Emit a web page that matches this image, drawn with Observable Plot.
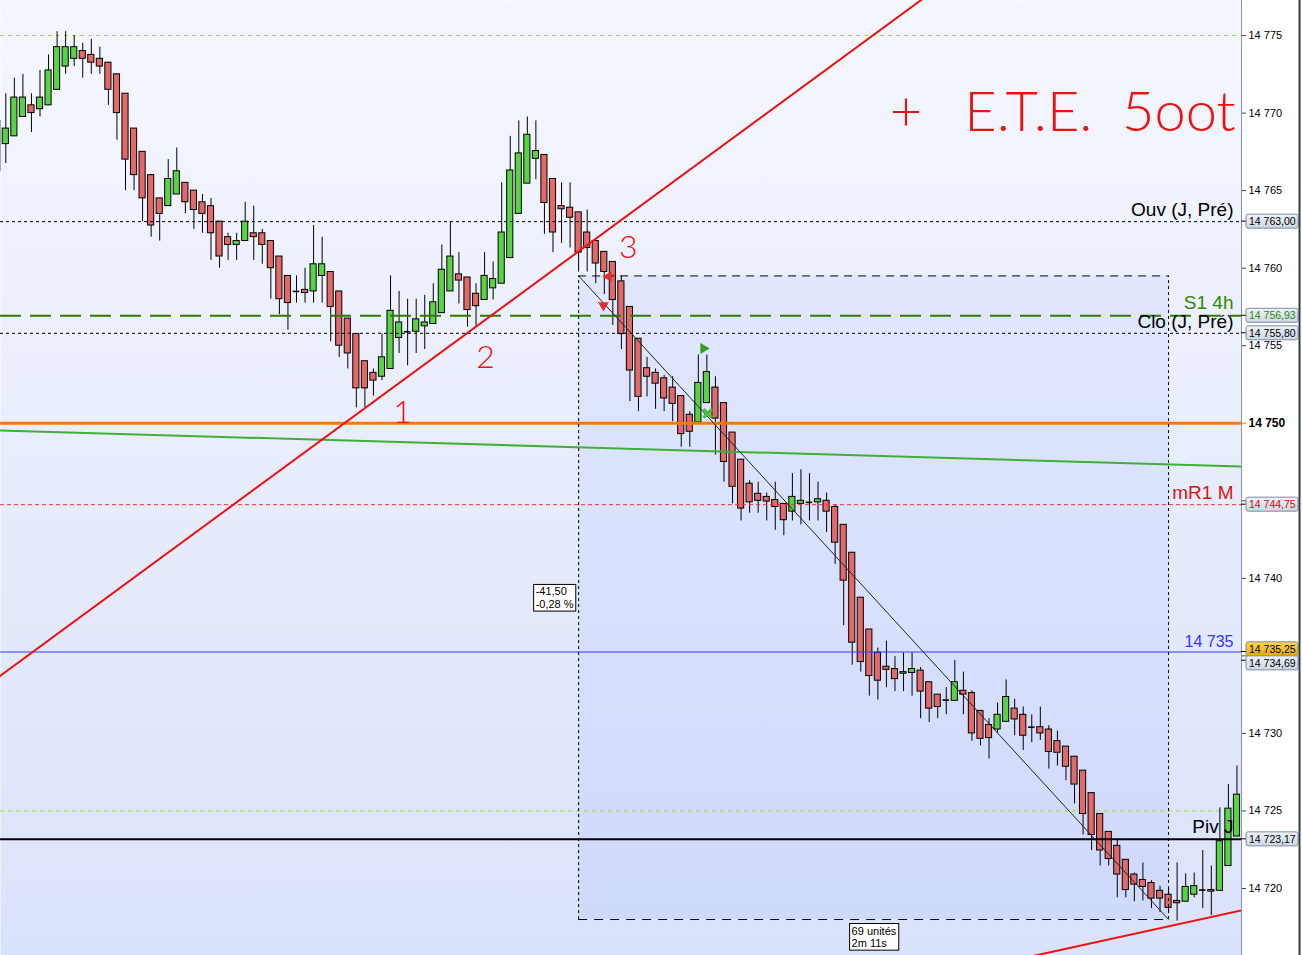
<!DOCTYPE html>
<html><head><meta charset="utf-8">
<script src="https://cdn.jsdelivr.net/npm/d3@7"></script>
<script src="https://cdn.jsdelivr.net/npm/@observablehq/plot@0.6"></script>
<style>
html,body{margin:0;padding:0;background:#fff;}
#chart{width:1302px;height:955px;position:relative;overflow:hidden;}
</style></head><body>
<svg width="0" height="0" style="position:absolute">
 <defs>
  <linearGradient id="bgGrad" x1="0" y1="0" x2="0" y2="1">
   <stop offset="0" stop-color="#f5f7fe"/><stop offset="1" stop-color="#dae2fa"/>
  </linearGradient>
  <linearGradient id="boxGrad" x1="0" y1="0" x2="0" y2="1">
   <stop offset="0" stop-color="#eef2f8"/><stop offset="1" stop-color="#cdd6e4"/>
  </linearGradient>
  <linearGradient id="goldGrad" x1="0" y1="0" x2="0" y2="1">
   <stop offset="0" stop-color="#ffd84a"/><stop offset="1" stop-color="#e8a800"/>
  </linearGradient>
 </defs>
</svg>
<div id="chart"></div>
<script>
// ---------------- DATA ----------------
const firstIndex = -1;
const opens = [14766.25,
14768,14768.5,14769.75,14770.5,14770.25,14770.5,14771.5,14773,14773.5,14774,
14773.75,14773.5,14773.25,14772.5,14771.25,14769,14767.5,14766,14764.5,14764,
14764.75,14765.5,14765,14764.25,14764,14763,14762,14761.5,14761.75,14762.25,
14762.25,14761.75,14760.75,14759.5,14758.5,14758.6,14758.5,14759.5,14759.75,14758.5,
14756.75,14755.75,14754,14753.25,14753,14753.5,14755.5,14755.9,14755.9,14756.25,
14756.4,14757.1,14758.5,14759.6,14759.4,14758.35,14757.95,14758.7,14759,14760.65,
14763.5,14765.45,14767.05,14767.3,14765.75,14764,14763.9,14763.6,14762.3,14761.75,
14761.05,14760.4,14759.15,14757.5,14755.45,14753.55,14753.25,14752.9,14752.3,14751.75,
14750.55,14750.05,14751.3,14752.3,14751.3,14749.4,14747.65,14746.1,14745.45,14745.25,
14745.05,14744.8,14744.3,14744.8,14744.9,14744.9,14745,14744.6,14743.45,14741.65,
14738.75,14736.7,14735.2,14734.3,14734.15,14733.85,14733.9,14734.05,14733.3,14732.5,
14732.15,14732.1,14732.75,14732.6,14731.45,14730.55,14730.25,14730.75,14731.6,14731.2,
14730.4,14730.4,14730.25,14729.5,14729.15,14728.5,14727.6,14726.15,14724.8,14723.65,
14722.75,14721.85,14720.9,14720.55,14720.35,14719.85,14719.6,14719.2,14719.15,14719.6,
14719.9,14719.9,14719.85,14721.45,14723.35];
const highs = [14770,
14771.25,14772.25,14772.5,14771.25,14772.75,14773.75,14775.25,14775.25,14775,14774.5,
14774.75,14774.25,14773.25,14772.5,14771.25,14769,14767.5,14766,14764.5,14767,
14767.75,14765.5,14765,14764.75,14764.5,14763,14762.25,14762.25,14764.25,14764,
14762.5,14761.75,14760.75,14759.5,14759.5,14760,14762.75,14762,14759.75,14758.5,
14756.75,14755.75,14754,14753.5,14755.75,14759.5,14758.5,14758,14758,14758.25,
14759,14761.5,14763,14761,14759.4,14759,14761,14760.4,14765.5,14768.5,
14769.5,14769.75,14769.5,14767.3,14765.75,14765.5,14765.5,14763.6,14763.75,14761.75,
14761.05,14760.4,14759.5,14757.5,14755.45,14754.25,14753.5,14753.1,14753,14751.75,
14750.75,14754.4,14754.4,14753,14751.3,14749.4,14747.65,14746.3,14746.2,14745.5,
14746.2,14744.8,14746.75,14747,14746.75,14746.2,14745.5,14744.75,14743.45,14741.65,
14738.75,14736.7,14735.5,14735.95,14734.95,14735.2,14735.2,14734.25,14733.3,14732.5,
14732.95,14734.7,14733.95,14732.75,14731.45,14730.95,14731.95,14733.45,14732.2,14731.7,
14731.2,14731.7,14730.5,14730.15,14729.15,14728.5,14727.6,14726.15,14724.8,14723.65,
14723.2,14721.85,14721,14721.65,14720.5,14720.15,14720.05,14721.65,14720.95,14721,
14722.45,14721.45,14725.2,14726.7,14727.9];
const lows = [14766,
14766.75,14768.5,14769.75,14768.75,14769.75,14770.5,14771.5,14772.5,14773,14772.25,
14772.5,14772.5,14770.5,14768.25,14765,14765,14763,14762,14761.75,14764,
14764.75,14763.5,14762.5,14762.25,14760.5,14760,14760.5,14760.5,14761.75,14760.5,
14760.25,14758,14757,14756,14757.75,14757.75,14757.75,14757.75,14755.25,14754.25,
14753.5,14751,14751,14751.75,14752.75,14753.5,14754.5,14753.7,14754.5,14754.75,
14756.4,14757.1,14758.5,14757.7,14756.2,14756.2,14757.95,14757.95,14759,14760.65,
14763.5,14765.45,14765.7,14762.2,14761,14761.6,14761.3,14759.75,14759.75,14759,
14758.3,14756.3,14754.75,14751.4,14750.75,14751.7,14750.9,14750.75,14750.1,14748.45,
14748.45,14750.05,14751.3,14747.95,14746.2,14744.8,14743.7,14744.2,14744.2,14743.7,
14743.1,14742.75,14743.7,14743.45,14743.7,14743.7,14742.95,14740.9,14736.95,14734.4,
14733.95,14732.4,14732.15,14732.95,14732.7,14732.7,14732.4,14730.95,14730.7,14730.95,
14731.2,14732.1,14731.2,14729.5,14729.2,14728.35,14730,14730.75,14729.85,14728.9,
14729.4,14729.55,14727.7,14727.9,14726.95,14725.45,14723.45,14722.45,14721.45,14721.45,
14719.4,14719.4,14719.15,14719.2,14718.7,14718.45,14718.5,14717.9,14719.15,14719.4,
14718.7,14718.25,14719.85,14721.45,14723.35];
const closes = [14769.5,
14769,14771,14771,14770,14771,14772.75,14774.25,14774.25,14774.25,14773.5,
14773.25,14773,14771.5,14770,14767,14766,14764.5,14762.75,14763.5,14765.75,
14766.25,14764.25,14763.75,14763.5,14762.25,14760.75,14761.5,14761.75,14763,14762,
14761.5,14760,14758,14757.75,14758.5,14758.4,14760.25,14760.25,14757.5,14755,
14754.5,14752.25,14752.25,14752.75,14754.25,14757.25,14756.5,14755.9,14756.7,14756.5,
14757.8,14759.9,14760.75,14759.2,14757.3,14757.55,14759.5,14759.3,14762.3,14766.3,
14767.4,14768.6,14767.55,14764.2,14762.3,14763.8,14763.25,14761,14761.3,14760.3,
14759.75,14757.95,14755.75,14753.4,14751.7,14753,14752.55,14751.6,14751.25,14749.3,
14749.45,14752.6,14753.3,14750.3,14747.5,14745.9,14744.5,14744.9,14745,14744.95,
14744.6,14743.75,14745.25,14745,14744.9,14745.1,14744.3,14742.3,14739.85,14735.85,
14734.6,14733.7,14733.4,14734.1,14733.5,14733.95,14734.15,14732.7,14731.6,14731.7,
14732.15,14733.3,14732.5,14730,14729.65,14729.7,14731.2,14732.35,14730.9,14729.85,
14730.4,14730,14728.8,14728.75,14727.85,14726.7,14724.8,14723.45,14722.45,14721.9,
14720.9,14719.9,14720.25,14720.1,14719.35,14719.35,14718.75,14719.05,14720.1,14720.15,
14719.9,14719.8,14723.05,14725.15,14726.05];

const tickValues = [14720,14725,14730,14735,14740,14745,14750,14755,14760,14765,14770,14775];
const gridValues = [14775, 14750, 14725];

const levelNames  = ["Ouv (J, Pré)", "S1 4h", "Clo (J, Pré)", "", "mR1 M", "14 735", "Piv J"];
const levelValues = [14763.00, 14756.93, 14755.80, 14750.00, 14744.75, 14735.25, 14723.17];
const boxValues   = [14763.00, 14756.93, 14755.80, 14744.75, 14735.25, 14734.69, 14723.17];

const maIndex  = [-1, 145];
const maValues = [14749.54, 14747.20];

const trendUpIndex = [-1, 110];
const trendUpValues = [14733.58, 14778.48];
const trendLowIndex = [118, 146];
const trendLowValues = [14715.39, 14718.76];

const measureIndex = [67, 136];
const measureValues = [14759.50, 14718.00];
const measureDuration = "2m 11s";

const noteTexts = ["1", "2", "3"];
const noteIndex = [46.4, 56.1, 72.8];
const noteValues = [14750.7, 14754.24, 14761.33];
const bigNoteTexts = ["+", "E.T.E.", "5oot"];
const bigNoteIndex = [105.3, 119.6, 137.2];
const bigNoteValue = 14769.97;

// ---------------- STYLES ----------------
const RED = "#e36868", GREEN = "#5ad246";
const levelStyle = {
  "Ouv (J, Pré)": {stroke: "#000", dash: "3,3", w: 1, text: "#000", size: 19, dy: -12},
  "S1 4h": {stroke: "#2d7d00", dash: "21,9", w: 2, text: "#2d8a00", size: 19, dy: -13},
  "Clo (J, Pré)": {stroke: "#000", dash: "3,3", w: 1, text: "#000", size: 19, dy: -11},
  "": {stroke: "#ff7800", dash: null, w: 3, text: "#ff7800", size: 19, dy: -12},
  "mR1 M": {stroke: "#ff2a2a", dash: "4,3", w: 1, text: "#e01010", size: 19, dy: -12},
  "14 735": {stroke: "#3535ff", dash: null, w: 1, text: "#3535ff", size: 16, dy: -10},
  "Piv J": {stroke: "#000", dash: null, w: 2, text: "#000", size: 19, dy: -12}
};
const boxStyle = {
  14763.00: {fill: "url(#boxGrad)", text: "#000"},
  14756.93: {fill: "url(#boxGrad)", text: "#1f8a00"},
  14755.80: {fill: "url(#boxGrad)", text: "#000"},
  14744.75: {fill: "url(#boxGrad)", text: "#e00000"},
  14735.25: {fill: "url(#goldGrad)", text: "#000"},
  14734.69: {fill: "url(#boxGrad)", text: "#000"},
  14723.17: {fill: "url(#boxGrad)", text: "#000"}
};

// ---------------- BUILD ----------------
const candles = opens.map((o, k) => ({i: firstIndex + k, o, h: highs[k], l: lows[k], c: closes[k]}));
const bodies = candles.filter(d => Math.abs(d.c - d.o) >= 0.05);
const dojis = candles.filter(d => Math.abs(d.c - d.o) < 0.05);
const levels = levelNames.map((name, k) => ({name, value: levelValues[k], ...levelStyle[name]}));
const ma = maIndex.map((i, k) => ({i, p: maValues[k]}));
const trendUp = trendUpIndex.map((i, k) => ({i, p: trendUpValues[k]}));
const trendLow = trendLowIndex.map((i, k) => ({i, p: trendLowValues[k]}));
const measure = {i1: measureIndex[0], i2: measureIndex[1], p1: measureValues[0], p2: measureValues[1]};
const notes = noteTexts.map((t, k) => ({t, i: noteIndex[k], p: noteValues[k]}));
const bigNotes = bigNoteTexts.map((t, k) => ({t, i: bigNoteIndex[k], p: bigNoteValue}));
const markers = [
  {i: 69.9, p: 14757.6, rot: 180, color: "#e03030"},
  {i: 70.5, p: 14759.46, rot: -90, color: "#e03030"},
  {i: 81.6, p: 14754.82, rot: 90, color: "#30a020"}
];
const crosses = [{i: 82.1, p: 14750.64}];

const fr = v => v.toFixed(2).replace(".", ",");
const fmtTick = v => { const s = String(v); return s.slice(0, 2) + " " + s.slice(2); };
const fmtBox = v => { const s = fr(v); return s.slice(0, 2) + " " + s.slice(2); };

const xDomain = [-0.62, 144.53];
const yDomain = [14715.68, 14777.26];
const pxPerPoint = 955 / (yDomain[1] - yDomain[0]);
const hiddenTicks = tickValues.filter(t => boxValues.some(b => Math.abs(b - t) * pxPerPoint < 9));

const change = measure.p2 - measure.p1;
const measureText1 = fr(change) + "\n" + fr(change / measure.p1 * 100) + " %";
const measureText2 = (measure.i2 - measure.i1) + " unités\n" + measureDuration;

const font = "'Liberation Sans', Arial, sans-serif";
const handFont = "Lato, 'Open Sans', sans-serif";

const marks = [
  Plot.frame({fill: "url(#bgGrad)"}),
  Plot.rect([measure], {x1: "i1", x2: "i2", y1: "p2", y2: "p1", fill: "#3d63ff", fillOpacity: 0.07}),
  Plot.ruleY(gridValues, {stroke: "#a0df1c", strokeDasharray: "4,4", strokeWidth: 1}),
  Plot.ruleX(candles, {x: "i", y1: "l", y2: "h", stroke: "#000", strokeWidth: 1, clip: true}),
  Plot.rect(bodies, {x1: d => d.i - 0.36, x2: d => d.i + 0.36, y1: "o", y2: "c",
    fill: d => d.c > d.o ? GREEN : RED, stroke: "#000", strokeWidth: 1, clip: true}),
  Plot.ruleY(dojis, {x1: d => d.i - 0.38, x2: d => d.i + 0.38, y: "o", stroke: "#000", strokeWidth: 1.6, clip: true}),
];
levels.forEach(l => {
  marks.push(Plot.ruleY([l], {y: "value", stroke: l.stroke, strokeWidth: l.w, strokeDasharray: l.dash || undefined}));
});
marks.push(
  Plot.line(ma, {x: "i", y: "p", stroke: "#3fae3a", strokeWidth: 2, clip: true}),
  Plot.line(trendUp, {x: "i", y: "p", stroke: "#ee1111", strokeWidth: 2, clip: true}),
  Plot.line(trendLow, {x: "i", y: "p", stroke: "#ee1111", strokeWidth: 2, clip: true}),
  Plot.link([measure], {x1: "i1", y1: "p1", x2: "i2", y2: "p2", stroke: "#222", strokeWidth: 1}),
  Plot.ruleY([measure], {y: "p1", x1: "i1", x2: "i2", stroke: "#000", strokeDasharray: "8,6"}),
  Plot.ruleY([measure], {y: "p2", x1: "i1", x2: "i2", stroke: "#000", strokeDasharray: "9,7"}),
  Plot.ruleX([measure], {x: "i1", y1: "p2", y2: "p1", stroke: "#000", strokeDasharray: "3,3"}),
  Plot.ruleX([measure], {x: "i2", y1: "p2", y2: "p1", stroke: "#000", strokeDasharray: "3,3"}),
  Plot.text([measure], {x: "i1", y: d => (d.p1 + d.p2) / 2, text: () => measureText1, textAnchor: "start",
    dx: -43, fontSize: 11, lineHeight: 1.15, fill: "#000"}),
  Plot.text([measure], {x: d => (d.i1 + d.i2) / 2, y: "p2", text: () => measureText2, textAnchor: "start",
    lineAnchor: "top", dx: -22, dy: 6, fontSize: 11, lineHeight: 1.15, fill: "#000"})
);
// level labels
levels.filter(d => d.name).forEach(l => {
  marks.push(Plot.text([l], {frameAnchor: "right", y: "value", text: "name",
    fill: l.text, textAnchor: "end", dx: -8, dy: l.dy, fontSize: l.size}));
});
marks.push(
  Plot.dot(markers, {x: "i", y: "p", symbol: "triangle", rotate: "rot", fill: "color", r: 4, stroke: null}),
  Plot.dot(crosses, {x: "i", y: "p", symbol: "times", stroke: "#3cc030", strokeWidth: 3, r: 4}),
  Plot.text(notes, {x: "i", y: "p", text: "t", fill: "#ee1111", fontSize: 32, fontWeight: 300,
    fontFamily: handFont}),
  Plot.text(bigNotes, {x: "i", y: "p", text: "t", fill: "#ee1111", fontSize: 56, fontWeight: 300,
    fontFamily: handFont, letterSpacing: 4}),
  Plot.ruleX([xDomain[1]], {stroke: "#8593a8", strokeWidth: 1}),
  Plot.axisY(tickValues.filter(v => v !== 14750), {anchor: "right", tickSize: 4, tickPadding: 3,
    fontSize: 11, tickFormat: v => hiddenTicks.includes(v) ? "" : fmtTick(v), stroke: "#444", fill: "#000", label: null}),
  Plot.axisY([14750], {anchor: "right", tickSize: 4, tickPadding: 3,
    fontSize: 12, fontWeight: "bold", tickFormat: fmtTick, stroke: "#ff7800", fill: "#000", label: null})
);

const chart = Plot.plot({
  width: 1302, height: 955,
  marginLeft: 0, marginRight: 61, marginTop: 0, marginBottom: 0,
  x: {domain: xDomain, axis: null},
  y: {domain: yDomain, axis: null},
  style: {fontFamily: font, background: "#ffffff", overflow: "hidden"},
  marks
});
document.getElementById("chart").appendChild(chart);

// ---------------- POST: boxes using Plot scales ----------------
const ys = chart.scale("y"), xs = chart.scale("x");
const svg = d3.select(chart);
const frameRight = xs.apply(xDomain[1]);

// white boxes behind the measurement texts (same transform as the text)
svg.selectAll("text").filter(function () {
  const t = this.textContent;
  return t.includes("unités") || t.includes(" %");
}).each(function () {
  const bb = this.getBBox();
  const tr = this.getAttribute("transform");
  const r = d3.select(this.parentNode).insert("rect", () => this)
    .attr("x", bb.x - 2).attr("y", bb.y - 1).attr("width", bb.width + 4).attr("height", bb.height + 2)
    .attr("fill", "#fff").attr("stroke", "#000").attr("stroke-width", 1);
  if (tr) r.attr("transform", tr);
  const xa = this.getAttribute("x"), ya = this.getAttribute("y");
  if (xa) r.attr("x", +xa + bb.x - +xa - 2);
});

// price boxes on the axis
const bx = boxValues.map(v => ({v, y: ys.apply(v)})).sort((a, b) => a.y - b.y);
for (let k = 1; k < bx.length; k++) {
  if (bx[k].y - bx[k - 1].y < 14) {
    const mid = (bx[k].y + bx[k - 1].y) / 2;
    bx[k - 1].y = mid - 7; bx[k].y = mid + 7;
  }
}
const gb = svg.append("g").attr("font-family", font).attr("font-size", 10.5).attr("text-anchor", "start");
bx.forEach(b => {
  const st = boxStyle[b.v];
  gb.append("line").attr("x1", frameRight).attr("x2", frameRight + 5).attr("y1", ys.apply(b.v)).attr("y2", ys.apply(b.v))
    .attr("stroke", "#000");
  gb.append("rect").attr("x", frameRight + 5).attr("y", b.y - 7).attr("width", 52).attr("height", 14)
    .attr("rx", 2).attr("fill", st.fill).attr("stroke", "#7d8ca3");
  gb.append("text").attr("x", frameRight + 8).attr("y", b.y).attr("dy", "0.36em")
    .attr("text-anchor", "start").attr("fill", st.text).text(fmtBox(b.v));
});
svg.append("line").attr("x1", 1299.5).attr("x2", 1299.5).attr("y1", 0).attr("y2", 955)
  .attr("stroke", "#333a48").attr("stroke-width", 2);
</script>
</body></html>
